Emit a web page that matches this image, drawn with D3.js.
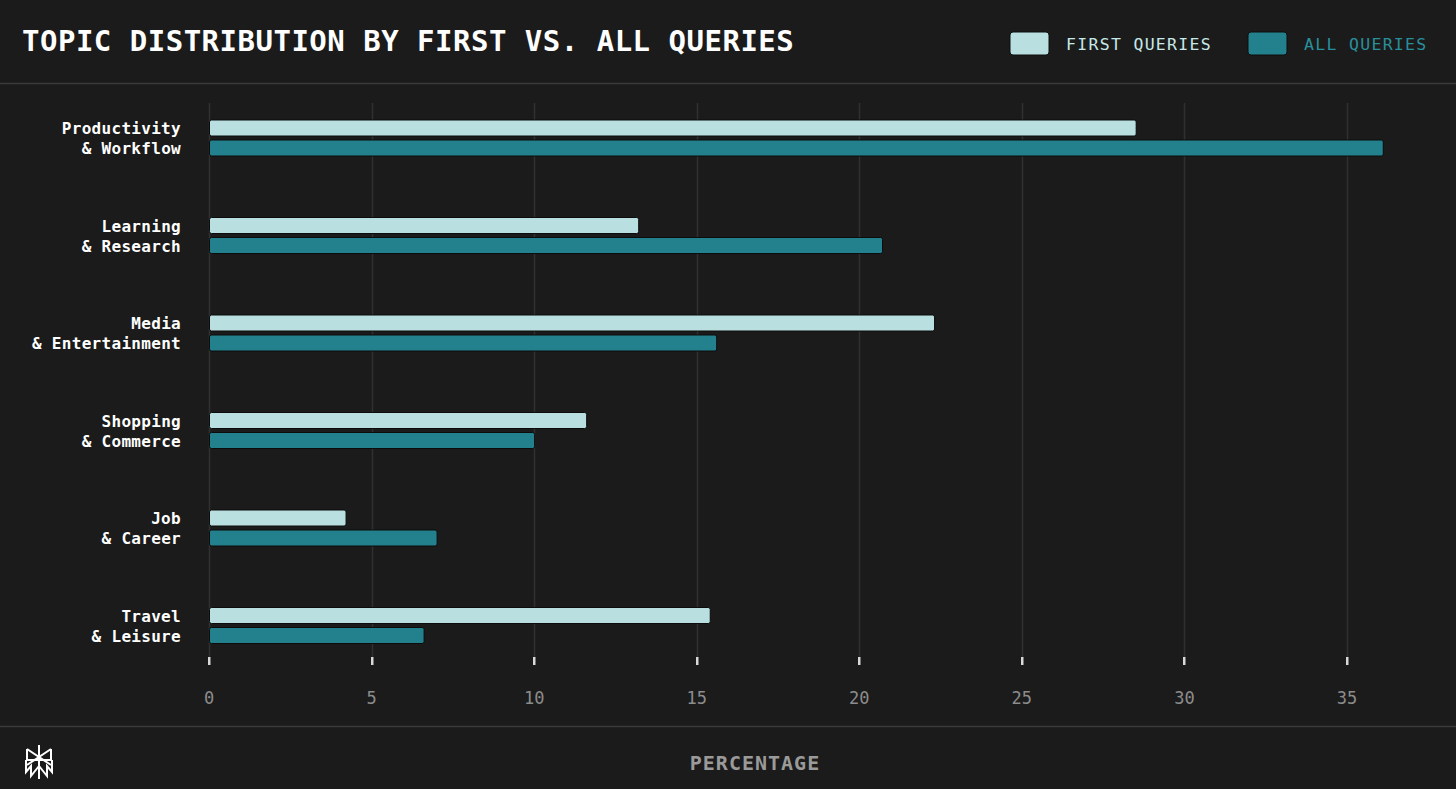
<!DOCTYPE html>
<html>
<head>
<meta charset="utf-8">
<script src="https://cdn.jsdelivr.net/npm/d3@7"></script>
<style>
  body { margin: 0; background: #1b1b1b; }
  svg { display: block; }
  text { font-family: "DejaVu Sans Mono", "Liberation Mono", monospace; }
</style>
</head>
<body>
<div id="chart"></div>
<script>
var categories = [
  ["Productivity", "& Workflow"],
  ["Learning", "& Research"],
  ["Media", "& Entertainment"],
  ["Shopping", "& Commerce"],
  ["Job", "& Career"],
  ["Travel", "& Leisure"]
];
var firstQueries = [28.5, 13.2, 22.3, 11.6, 4.2, 15.4];
var allQueries = [36.1, 20.7, 15.6, 10.0, 7.0, 6.6];
var seriesNames = ["FIRST QUERIES", "ALL QUERIES"];
var xTicks = [0, 5, 10, 15, 20, 25, 30, 35];

var width = 1456, height = 789;
var colors = {"FIRST QUERIES": "#b9dfe0", "ALL QUERIES": "#23808d"};
var legendText = {"FIRST QUERIES": "#c6e8e8", "ALL QUERIES": "#2a8f9c"};

var svg = d3.select("#chart").append("svg")
  .attr("width", width)
  .attr("height", height);

svg.append("rect").attr("width", width).attr("height", height).attr("fill", "#1b1b1b");

// title
svg.append("text")
  .text("TOPIC DISTRIBUTION BY FIRST VS. ALL QUERIES")
  .attr("x", 22).attr("y", 51)
  .attr("fill", "#ffffff")
  .attr("font-size", 29)
  .attr("font-weight", "bold")
  .attr("letter-spacing", 0.5);

// legend
var legendX = [1010, 1248];
seriesNames.forEach(function(s, i) {
  svg.append("rect")
    .attr("x", legendX[i]).attr("y", 32)
    .attr("width", 39).attr("height", 23)
    .attr("rx", 3)
    .attr("fill", colors[s])
    .attr("stroke", "#0e0e0e");
  svg.append("text")
    .text(s)
    .attr("x", legendX[i] + 56).attr("y", 50)
    .attr("fill", legendText[s])
    .attr("font-size", 16.5)
    .attr("letter-spacing", 1.3);
});

// separators
svg.append("line").attr("x1", 0).attr("x2", width).attr("y1", 83.5).attr("y2", 83.5)
  .attr("stroke", "#3a3a3a").attr("stroke-width", 1.5);
svg.append("line").attr("x1", 0).attr("x2", width).attr("y1", 726.5).attr("y2", 726.5)
  .attr("stroke", "#3a3a3a").attr("stroke-width", 1.5);

var x = d3.scaleLinear().domain([0, 35]).range([209, 1347]);

var y = d3.scaleBand()
  .domain(d3.range(categories.length))
  .range([89.25, 674.25])
  .padding(0);

var ySub = d3.scaleBand()
  .domain(seriesNames)
  .range([-18, 18])
  .paddingInner(0.2);

// grid
svg.append("g").selectAll("line")
  .data(xTicks)
  .enter().append("line")
  .attr("x1", function(d) { return Math.round(x(d)) + 0.5; })
  .attr("x2", function(d) { return Math.round(x(d)) + 0.5; })
  .attr("y1", 103).attr("y2", 657)
  .attr("stroke", "#303030")
  .attr("stroke-width", 1.5);

// tick marks
svg.append("g").selectAll("rect")
  .data(xTicks)
  .enter().append("rect")
  .attr("x", function(d) { return Math.round(x(d)) - 1; })
  .attr("y", 657).attr("width", 2.5).attr("height", 8)
  .attr("fill", "#d8d8d8");

svg.append("g").selectAll("text")
  .data(xTicks)
  .enter().append("text")
  .attr("x", function(d) { return x(d); })
  .attr("y", 704)
  .attr("text-anchor", "middle")
  .attr("fill", "#8c8c8c")
  .attr("font-size", 17)
  .text(function(d) { return d; });

// bars
var rows = [];
categories.forEach(function(c, i) {
  rows.push({i: i, s: "FIRST QUERIES", v: firstQueries[i]});
  rows.push({i: i, s: "ALL QUERIES", v: allQueries[i]});
});

svg.append("g").selectAll("rect")
  .data(rows)
  .enter().append("rect")
  .attr("x", x(0) + 0.5)
  .attr("y", function(d) { return y(d.i) + y.bandwidth() / 2 + ySub(d.s); })
  .attr("width", function(d) { return x(d.v) - x(0); })
  .attr("height", ySub.bandwidth())
  .attr("rx", 2)
  .attr("fill", function(d) { return colors[d.s]; })
  .attr("stroke", "#0c0c0c")
  .attr("stroke-width", 1);

// category labels
var labels = svg.append("g").selectAll("text")
  .data(categories)
  .enter().append("text")
  .attr("text-anchor", "end")
  .attr("fill", "#ffffff")
  .attr("font-size", 16)
  .attr("font-weight", "bold")
  .attr("letter-spacing", 0.3);

labels.each(function(d, i) {
  var t = d3.select(this);
  var cy = y(i) + y.bandwidth() / 2;
  d.forEach(function(line, k) {
    t.append("tspan")
      .attr("x", 181)
      .attr("y", cy - 10 + k * 20 + 6)
      .text(line);
  });
});

// axis title
svg.append("text")
  .text("PERCENTAGE")
  .attr("x", 755).attr("y", 770)
  .attr("text-anchor", "middle")
  .attr("fill", "#9a9a9a")
  .attr("font-size", 20)
  .attr("font-weight", "bold")
  .attr("letter-spacing", 1);

// logo
var logo = svg.append("g")
  .attr("transform", "translate(39,762)")
  .attr("fill", "none")
  .attr("stroke", "#ffffff")
  .attr("stroke-width", 2)
  .attr("stroke-linejoin", "miter");
logo.append("path").attr("d", "M0,-17 V17");
logo.append("path").attr("d", "M-12,-13 L12,3 M12,-13 L-12,3");
logo.append("path").attr("d", "M-12,-13 V-2 M12,-13 V-2");
logo.append("path").attr("d", "M-13,-2 H13");
logo.append("path").attr("d", "M-13,-2 V10 L-8,4 V14 L0,4 L8,14 V4 L13,10 V-2");
</script>
</body>
</html>
